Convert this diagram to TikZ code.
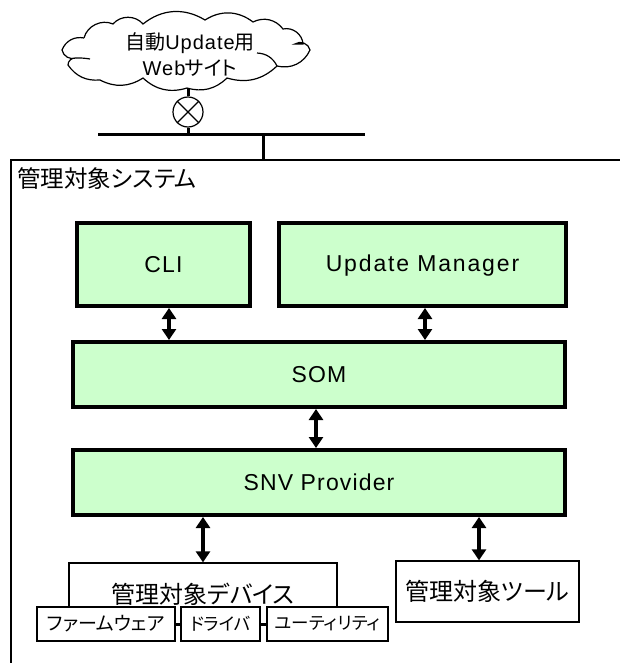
\documentclass[tikz,border=0pt]{standalone}
\usepackage{fontspec}
\setmainfont{Liberation Sans}[LetterSpace=5]
\newfontfamily\jp[CharacterWidth=AlternateProportional]{Noto Sans CJK JP}
\usetikzlibrary{arrows.meta}
\definecolor{boxgreen}{RGB}{204,255,204}
\tikzstyle{greenbox} = [rectangle, text centered, draw=black, line width=4pt, fill=boxgreen, font=\fontsize{23}{27}\selectfont]
\tikzstyle{plainbox} = [rectangle, text centered, draw=black, line width=1.3pt, fill=white, inner sep=0pt, font=\fontsize{24}{28}\selectfont\jp]
\tikzstyle{smallbox} = [plainbox, font=\fontsize{17.5}{20}\selectfont\jp]
\tikzstyle{arrow} = [line width=3.5pt,{Triangle[width=14pt,length=11pt]}-{Triangle[width=14pt,length=11pt]}]
\tikzstyle{wire} = [line width=3pt]
\tikzstyle{thinline} = [line width=1.2pt]

\begin{document}
\begin{tikzpicture}[x=1pt, y=-1pt, node distance=60pt]
\useasboundingbox (0,0) rectangle (620,663);

\draw [thinline, fill=white] (84,38) to[bend left=50] (113,24) to[bend left=50] (143,24) to[bend left=35] (205,20) to[bend left=35] (253,22) to[bend left=40] (283,29) to[bend left=50] (303,44) -- (295,44) to[bend left=60] (310,50) to[bend left=40] (277,66) to[bend left=30] (227,78) to[bend left=30] (187,88) to[bend left=30] (143,78) to[bend left=30] (100,80) to[bend left=30] (68,65) to[bend left=50] (76,58) to[bend left=50] (62,50) to[bend left=40] (84,38);
\draw [thinline] (76,58) to[bend left=5] (90,59);
\draw [thinline] (257,53) to[bend left=30] (277,66);

\node (web) [inner sep=0pt, align=center, font=\fontsize{20}{26}\selectfont] at (190,55) {{\jp 自動}Update{\jp 用}\\Web{\jp サイト}};
\node (valve) [circle, draw=black, thinline, fill=white, minimum size=30pt, inner sep=0pt, below of=web, xshift=-2pt, yshift=3pt] {};
\coordinate (cloudbottom) at (188,88);
\coordinate (busleft) at (98,135);
\coordinate (busright) at (365,135);
\coordinate (busdrop) at (263,135);
\coordinate (frametop) at (263,160);
\coordinate (framecorner) at (11,160);
\coordinate (frameright) at (620,160);
\coordinate (framebottom) at (11,663);

\node (system) [anchor=west, inner sep=0pt, font=\fontsize{23.5}{28}\selectfont\jp] at (17,179) {管理対象システム};

\node (cli) [greenbox, minimum width=173pt, minimum height=83pt] at (163.5,264.5) {CLI};
\node (update) [greenbox, minimum width=287pt, minimum height=83pt, right of=cli, xshift=199pt, text depth=3pt] {\addfontfeature{LetterSpace=8}Update Manager};
\node (som) [greenbox, minimum width=492pt, minimum height=65pt, below of=cli, xshift=155.5pt, yshift=-50pt] {SOM};
\node (snv) [greenbox, minimum width=492pt, minimum height=65pt, below of=som, yshift=-48pt] {SNV Provider};

\node (device) [plainbox, minimum width=268pt, minimum height=62pt] at (203,594) {管理対象デバイス};
\node (tool) [plainbox, minimum width=183pt, minimum height=61pt, right of=device, xshift=224.5pt, yshift=2.5pt] {管理対象ツール};
\node (firmware) [smallbox, minimum width=138pt, minimum height=34pt, below of=device, xshift=-97pt, yshift=30pt, font=\fontsize{19}{22}\selectfont\jp] {ファームウェア};
\node (driver) [smallbox, minimum width=79pt, minimum height=34pt, right of=firmware, xshift=54.5pt] {ドライバ};
\node (utility) [smallbox, minimum width=121pt, minimum height=34pt, right of=driver, xshift=47pt] {ユーティリティ};

\draw [wire] (cloudbottom) -- (valve);
\draw [wire] (valve) -- (valve |- busleft);
\draw [thinline] (valve.45) -- (valve.225);
\draw [thinline] (valve.135) -- (valve.315);
\draw [wire] (busleft) -- (busright);
\draw [wire] (busdrop) -- (frametop);
\draw [thinline] (frameright) -- (framecorner) -- (framebottom);

\draw [arrow] ([xshift=5.5pt]cli.south) -- ([xshift=5.5pt]cli.south |- som.north);
\draw [arrow] ([xshift=2.5pt]update.south) -- ([xshift=2.5pt]update.south |- som.north);
\draw [arrow] ([xshift=-3pt]som.south) -- ([xshift=-3pt]som.south |- snv.north);
\draw [arrow] (device.north) -- (device.north |- snv.south);
\draw [arrow] ([xshift=-8.5pt]tool.north) -- ([xshift=-8.5pt]tool.north |- snv.south);
\draw [thinline] (firmware) -- (driver);
\draw [thinline] (driver) -- (utility);

\end{tikzpicture}
\end{document}
